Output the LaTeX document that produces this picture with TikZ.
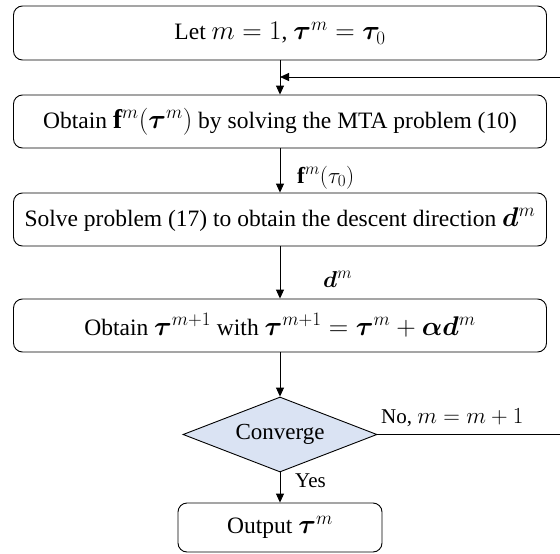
\RequirePackage{fix-cm}
\documentclass[tikz,border=0pt]{standalone}
\usepackage{amsmath}
\usepackage{bm}
\usepackage{fontspec}
\setmainfont{Liberation Serif}
\DeclareMathSizes{23.5}{27}{19}{15}
\DeclareMathSizes{21}{23}{17}{13}
\usetikzlibrary{shapes.geometric,arrows.meta}
\definecolor{diafill}{HTML}{DAE3F3}
\begin{document}
\begin{tikzpicture}[x=1pt,y=-1pt,
  box/.style={draw, rounded corners=9pt, line width=0.9pt, inner sep=0pt, font=\fontsize{23.5}{28}\selectfont},
  lbl/.style={font=\fontsize{21}{25}\selectfont, inner sep=0pt},
  arr/.style={line width=0.9pt, -{Triangle[length=9pt,width=8pt]}}]
\useasboundingbox (0,0) rectangle (560,554);
\node[box, minimum width=533pt, minimum height=54pt] (b1) at (280,33) {Let $m=1$, $\bm{\tau}^m=\bm{\tau}_0$};
\node[box, minimum width=533pt, minimum height=53pt] (b2) at (280,121.5) {Obtain $\mathbf{f}^m(\bm{\tau}^m)$ by solving the MTA problem (10)};
\node[box, minimum width=533pt, minimum height=53pt] (b3) at (280,219.5) {Solve problem (17) to obtain the descent direction $\bm{d}^m$};
\node[box, minimum width=533pt, minimum height=53pt] (b4) at (280,325.5) {Obtain $\bm{\tau}^{m+1}$ with $\bm{\tau}^{m+1}=\bm{\tau}^m+\bm{\alpha}\bm{d}^m$};
\node[draw, diamond, fill=diafill, minimum width=194pt, minimum height=75pt, inner sep=0pt, aspect=2.6, line width=0.9pt, font=\fontsize{23}{27}\selectfont] (dia) at (280,434.5) {Converge};
\node[box, minimum width=204pt, minimum height=49pt] (out) at (280,527.5) {Output $\bm{\tau}^m$};
\coordinate (fb) at (280,77);
\draw[arr] (b1.south) -- (b2.north);
\draw[arr] (b2.south) -- (b3.north);
\draw[arr] (b3.south) -- (b4.north);
\draw[arr] (b4.south) -- (dia.north);
\draw[arr] (dia.south) -- (out.north);
\draw[arr] (dia.east) -- ++(185,0) |- (fb);
\node[lbl, anchor=base west] (lf) at (297,183) {$\mathbf{f}^m(\tau_0)$};
\node[lbl, anchor=base west] (ld) at (323,287) {$\bm{d}^m$};
\node[lbl, anchor=base west] (lno) at (381,423) {No, $m=m+1$};
\node[lbl, anchor=base west] (lyes) at (295,487) {Yes};
\end{tikzpicture}
\end{document}
